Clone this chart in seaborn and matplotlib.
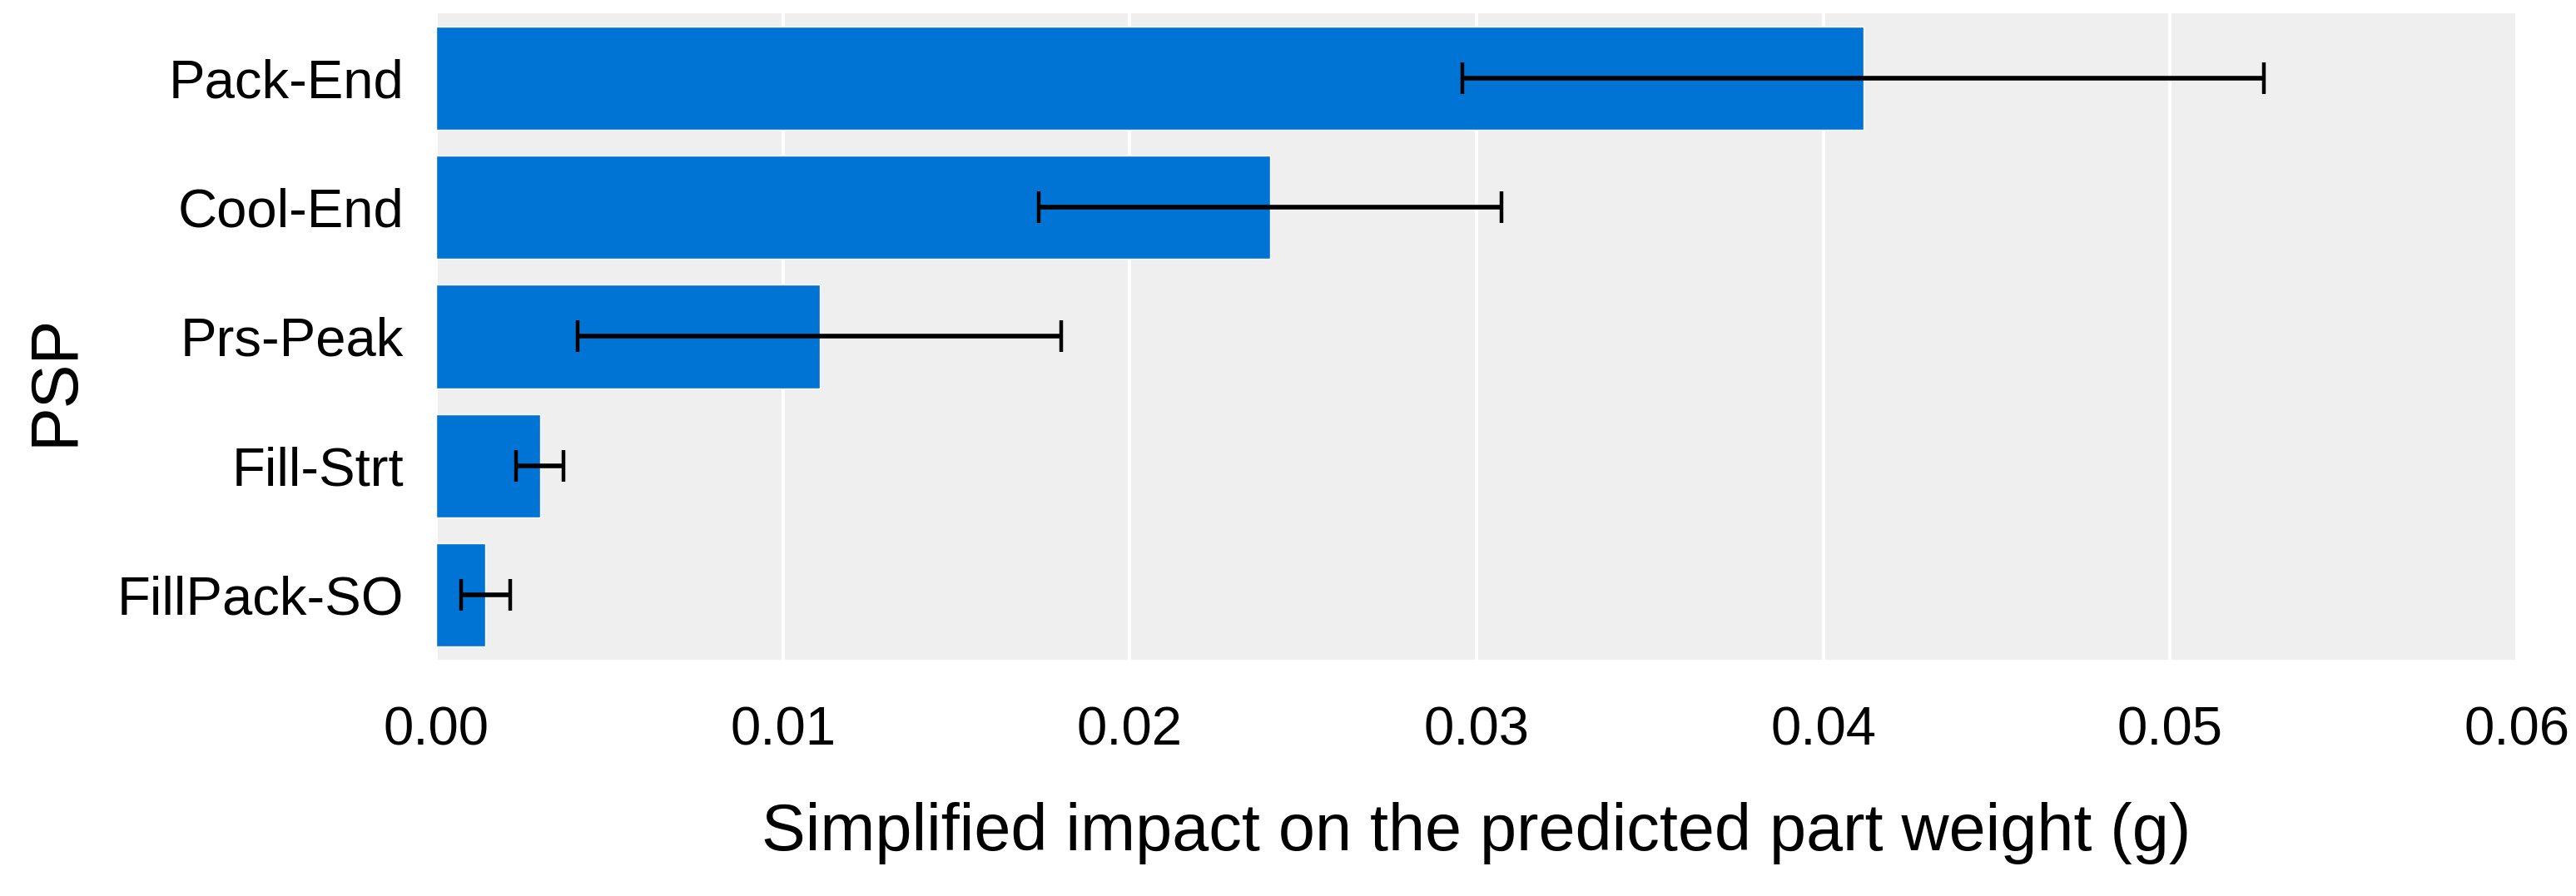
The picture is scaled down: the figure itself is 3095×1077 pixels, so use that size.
import matplotlib
matplotlib.use("Agg")
import matplotlib.pyplot as plt
import seaborn as sns
import pandas as pd

categories = ["Pack-End", "Cool-End", "Prs-Peak", "Fill-Strt", "FillPack-SO"]
impact = [0.04115, 0.02405, 0.01106, 0.00299, 0.00142]
errors = [0.01155, 0.00668, 0.00697, 0.00069, 0.00071]
xticks = [0.00, 0.01, 0.02, 0.03, 0.04, 0.05, 0.06]
xlabel = "Simplified impact on the predicted part weight (g)"
ylabel = "PSP"

df = pd.DataFrame({"PSP": categories, "impact": impact, "err": errors})

sns.set_theme(style="white")
plt.rcParams["font.family"] = ["Liberation Sans", "DejaVu Sans"]

fig = plt.figure(figsize=(30.95, 10.77), dpi=100)
ax = fig.add_axes([524/3095, 1-793/1077, (3024-524)/3095, (793-16)/1077])
ax.set_facecolor("#efefef")

sns.barplot(data=df, x="impact", y="PSP", orient="h", color="#0074d4",
            saturation=1, width=0.8, errorbar=None, ax=ax, zorder=2)
ax.errorbar(df["impact"], range(len(df)), xerr=df["err"], fmt="none",
            ecolor="black", elinewidth=4.0, capsize=13.5, capthick=3.2, zorder=3)

ax.set_xlim(0, 0.06)
ax.set_ylim(4.5, -0.5)
ax.set_xticks(xticks)
ax.set_xticklabels([f"{t:.2f}" for t in xticks])
ax.grid(axis="x", color="white", linewidth=2.8, zorder=1)
ax.grid(axis="y", visible=False)
ax.set_axisbelow(True)
for s in ax.spines.values():
    s.set_visible(False)
ax.tick_params(axis="both", length=0, labelsize=47, labelcolor="black")
ax.tick_params(axis="x", pad=40)
ax.tick_params(axis="y", pad=28)
ax.set_xlabel(xlabel, fontsize=57, labelpad=40, color="black")
ax.set_ylabel(ylabel, fontsize=57, color="black")
ax.yaxis.set_label_coords(-0.168, 0.432)

fig.savefig("out.png", dpi=100, facecolor="white")
